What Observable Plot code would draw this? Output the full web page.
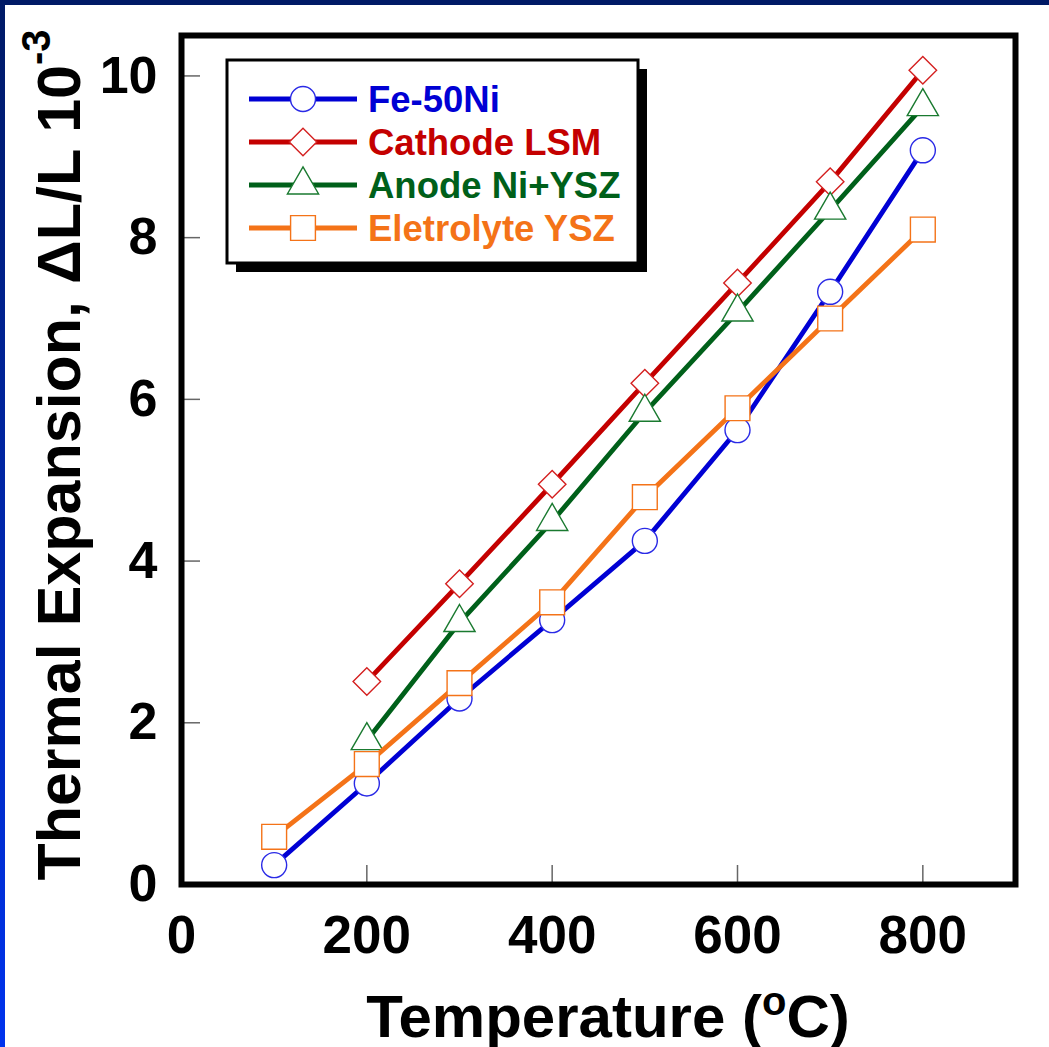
<!DOCTYPE html>
<html><head><meta charset="utf-8">
<script src="https://cdn.jsdelivr.net/npm/d3@7"></script>
<script src="https://cdn.jsdelivr.net/npm/@observablehq/plot@0.6"></script>
<style>
body{margin:0;background:#fff;}
#wrap{position:relative;width:1049px;height:1047px;overflow:hidden;background:#fff;}
#chart{position:absolute;left:0;top:0;}
#topbar{position:absolute;left:0;top:0;width:1049px;height:5px;background:#001a66;}
#leftbar{position:absolute;left:0;top:0;width:5px;height:1047px;background:linear-gradient(#001a66,#0033ee);}
</style></head>
<body><div id="wrap"><div id="chart"></div><div id="topbar"></div><div id="leftbar"></div></div>
<script>
// ---- data ----
const temps = [100, 200, 300, 400, 500, 600, 700, 800];
const fe50Ni = [0.24, 1.25, 2.30, 3.27, 4.25, 5.62, 7.33, 9.08];
const cathodeLSM = [null, 2.51, 3.72, 4.95, 6.20, 7.44, 8.69, 10.07];
const anodeNiYSZ = [null, 1.78, 3.24, 4.49, 5.84, 7.08, 8.34, 9.62];
const electrolyteYSZ = [0.59, 1.49, 2.49, 3.49, 4.79, 5.89, 7.00, 8.10];
const seriesNames = ["Fe-50Ni", "Cathode LSM", "Anode Ni+YSZ", "Eletrolyte YSZ"];
const xTicks = [0, 200, 400, 600, 800];
const yTicks = [0, 2, 4, 6, 8, 10];

// ---- styles ----
const seriesValues = [fe50Ni, cathodeLSM, anodeNiYSZ, electrolyteYSZ];
const lineColors = ["#0000d4", "#c40000", "#00601a", "#f47318"];
const markColors = ["#2a2ae6", "#d42020", "#1a7a30", "#f47318"];
const symbols = ["circle", "diamond2", "triangle", "square"];
const d3symbols = [d3.symbolCircle, d3.symbolDiamond2, d3.symbolTriangle, d3.symbolSquare];
const radii = [12.5, 12.4, 11.6, 14];
const FONT = "'Liberation Sans', Arial, Helvetica, sans-serif";

const marks = [];
seriesValues.forEach((vals, i) => {
  const rows = temps.map((t, j) => ({t, v: vals[j]})).filter(d => d.v != null);
  marks.push(Plot.line(rows, {x: "t", y: "v", stroke: lineColors[i], strokeWidth: 4.8}));
  marks.push(Plot.dot(rows, {x: "t", y: "v", symbol: () => symbols[i], r: radii[i], fill: "white", stroke: markColors[i], strokeWidth: 1.4}));
});

const fmt = d => String(d);
const svg = Plot.plot({
  width: 1049,
  height: 1047,
  marginLeft: 181,
  marginRight: 34,
  marginTop: 35,
  marginBottom: 163,
  style: {fontFamily: FONT, background: "transparent", color: "black"},
  x: {domain: [0, 900], label: null},
  y: {domain: [0, 10.5], label: null},
  symbol: {type: "identity"},
  marks: [
    ...marks,
    Plot.axisY(yTicks, {tickSize: -19, fill: "none", stroke: "#666", strokeWidth: 1.5, label: null}),
    Plot.axisX(xTicks, {tickSize: -19, fill: "none", stroke: "#666", strokeWidth: 1.5, label: null}),
    Plot.axisY(yTicks, {tickSize: 0, tickPadding: 24, tickFormat: fmt, fontSize: 52, fontWeight: "bold", label: null}),
    Plot.axisX(xTicks, {tickSize: 0, tickPadding: 31, tickFormat: fmt, fontSize: 53, fontWeight: "bold", label: null}),
    Plot.frame({stroke: "black", strokeWidth: 6})
  ]
});

const s = d3.select(svg);
// axis titles
const yt = s.append("text")
  .attr("transform", "translate(80,455) rotate(-90)")
  .attr("text-anchor", "middle")
  .style("font-family", FONT).style("font-weight", "bold").style("font-size", "61px").attr("fill", "black");
yt.append("tspan").text("Thermal Expansion, \u0394L/L 10");
yt.append("tspan").attr("dy", -30).style("font-size", "40px").text("-3");

const xt = s.append("text")
  .attr("x", 608).attr("y", 1037)
  .attr("text-anchor", "middle")
  .style("font-family", FONT).style("font-weight", "bold").style("font-size", "60px").attr("fill", "black");
xt.append("tspan").text("Temperature (");
xt.append("tspan").attr("dy", -22).style("font-size", "40px").text("o");
xt.append("tspan").attr("dy", 22).text("C)");

// legend
const lg = s.append("g");
lg.append("rect").attr("x", 236).attr("y", 69).attr("width", 411).attr("height", 203).attr("fill", "black");
lg.append("rect").attr("x", 227).attr("y", 60).attr("width", 411).attr("height", 203).attr("fill", "white").attr("stroke", "black").attr("stroke-width", 3);
const rowsY = [99, 142, 185, 228];
seriesNames.forEach((name, i) => {
  const y = rowsY[i];
  lg.append("line").attr("x1", 249).attr("x2", 357).attr("y1", y).attr("y2", y).attr("stroke", lineColors[i]).attr("stroke-width", 4.8);
  lg.append("path").attr("d", d3.symbol(d3symbols[i], Math.PI * radii[i] * radii[i])())
    .attr("transform", `translate(303,${y})`).attr("fill", "white").attr("stroke", markColors[i]).attr("stroke-width", 1.4);
  lg.append("text").attr("x", 368).attr("y", y).attr("dy", "0.36em").attr("text-anchor", "start").text(name)
    .style("font-family", FONT).style("font-weight", "bold").style("font-size", "36.5px").attr("fill", lineColors[i]);
});

document.getElementById("chart").appendChild(svg);
</script>
</body></html>
